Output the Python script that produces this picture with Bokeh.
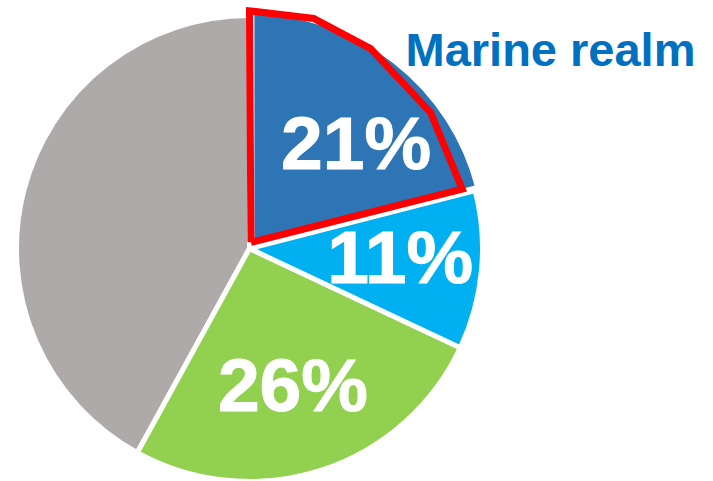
import math
from bokeh.plotting import figure
from bokeh.core.properties import value
from bokeh.embed import file_html
from bokeh.resources import INLINE

# ---- data ----
categories = ["Marine realm", "Freshwater", "Terrestrial", "Other"]
shares = [21, 11, 26, 42]
labels = ["21%", "11%", "26%", ""]
colors = ["#2E75B6", "#00B0F0", "#92D050", "#AEAAAA"]
title_label = "Marine realm"

# ---- layout / style ----
W, H = 713, 481
cx, cy, R = 249, 233, 233
explode = [4, 0, 0, 0]
label_r = 0.645
label_dx = [12, 1, -3, 0]
label_dy = [-16, 6, 6, 0]
# highlight outline: vertex positions along the slice (fraction) and radius factors
hl_frac = [0.0, 0.206, 0.413, 0.702, 0.984]
hl_rad = [1.02, 1.025, 1.003, 0.972, 0.948]

p = figure(width=W, height=H, x_range=(0, W), y_range=(0, H),
           output_backend="svg", toolbar_location=None, min_border=0)
p.axis.visible = False
p.grid.visible = False
p.outline_line_color = None
p.background_fill_color = "white"
p.border_fill_color = "white"

total = float(sum(shares))
starts, ends, mids, xs, ys = [], [], [], [], []
cum = 0.0
for i, s in enumerate(shares):
    a0 = math.pi / 2 - 2 * math.pi * cum / total           # clockwise from top
    cum += s
    a1 = math.pi / 2 - 2 * math.pi * cum / total
    m = (a0 + a1) / 2
    starts.append(a1)
    ends.append(a0)
    mids.append(m)
    xs.append(cx + explode[i] * math.cos(m))
    ys.append(cy + explode[i] * math.sin(m))

for i in [3, 2, 1, 0]:
    p.wedge(x=xs[i], y=ys[i], radius=R, start_angle=starts[i], end_angle=ends[i],
            fill_color=colors[i], line_color="white", line_width=5)

# red highlight outline around the first slice
poly_x = [xs[0] - 1]
poly_y = [ys[0] + 3]
for f, rf in zip(hl_frac, hl_rad):
    a = ends[0] + (starts[0] - ends[0]) * f
    poly_x.append(cx + rf * R * math.cos(a))
    poly_y.append(cy + rf * R * math.sin(a))
poly_x.append(poly_x[0])
poly_y.append(poly_y[0])
p.line(poly_x, poly_y, line_color="#FF0000", line_width=7, line_join="miter")

# percentage labels
lx, ly, lt = [], [], []
for i in range(len(shares)):
    if labels[i]:
        lx.append(xs[i] + label_r * R * math.cos(mids[i]) + label_dx[i])
        ly.append(ys[i] + label_r * R * math.sin(mids[i]) + label_dy[i])
        lt.append(labels[i])
p.text(x=lx, y=ly, text=lt, text_color="white", text_font=value("Liberation Sans"),
       text_font_style="bold", text_font_size="75px",
       text_outline_color="white",
       text_align="center", text_baseline="middle")

p.text(x=[405], y=[432], text=[title_label], text_color="#0070C0",
       text_font=value("Liberation Sans"), text_font_style="bold",
       text_font_size="47px", text_align="left", text_baseline="alphabetic")

open("out.html", "w").write(file_html(p, INLINE))
